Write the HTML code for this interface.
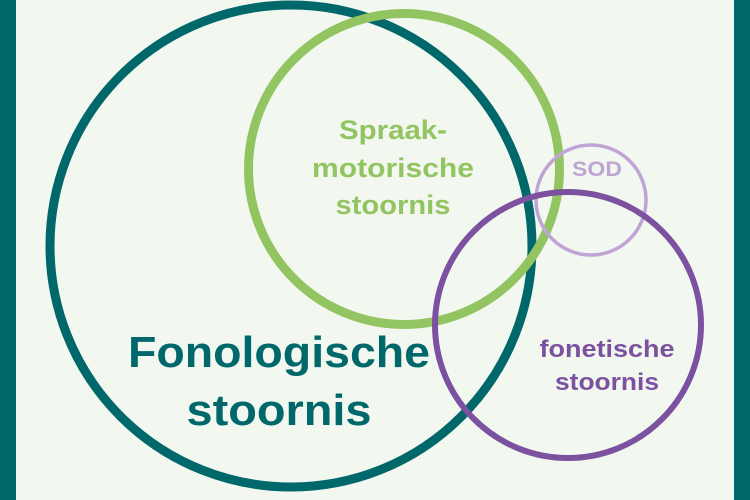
<!DOCTYPE html>
<html><head><style>
html,body{margin:0;padding:0;}
body{width:750px;height:500px;overflow:hidden;background:#f2f8ef;}
svg{display:block;}
text{font-family:"Liberation Sans",sans-serif;font-weight:bold;text-anchor:middle;}
</style></head><body>
<svg width="750" height="500" viewBox="0 0 750 500">
<rect x="0" y="0" width="750" height="500" fill="#f2f8ef"/>
<rect x="0" y="0" width="16" height="500" fill="#00676a"/>
<rect x="734" y="0" width="16" height="500" fill="#00676a"/>
<circle cx="291" cy="246" r="241" fill="none" stroke="#00676a" stroke-width="9"/>
<circle cx="404" cy="169" r="155.5" fill="none" stroke="#92c462" stroke-width="9"/>
<circle cx="591" cy="200" r="55" fill="none" stroke="#c0a4d6" stroke-width="3.5"/>
<circle cx="568" cy="325" r="133" fill="none" stroke="#7b51a0" stroke-width="6"/>
<g fill="#92c462" font-size="27">
<text x="393" y="139" textLength="108" lengthAdjust="spacingAndGlyphs">Spraak-</text>
<text x="393" y="177" textLength="162" lengthAdjust="spacingAndGlyphs">motorische</text>
<text x="393" y="214" textLength="115" lengthAdjust="spacingAndGlyphs">stoornis</text>
</g>
<text x="597" y="176" fill="#c0a4d6" font-size="21" textLength="50" lengthAdjust="spacingAndGlyphs">SOD</text>
<g fill="#7b51a0" font-size="24">
<text x="607" y="357" textLength="135" lengthAdjust="spacingAndGlyphs">fonetische</text>
<text x="607" y="390" textLength="104" lengthAdjust="spacingAndGlyphs">stoornis</text>
</g>
<g fill="#00676a" font-size="44">
<text x="279" y="367" textLength="302" lengthAdjust="spacingAndGlyphs">Fonologische</text>
<text x="279" y="425" textLength="185" lengthAdjust="spacingAndGlyphs">stoornis</text>
</g>
</svg>
</body></html>
